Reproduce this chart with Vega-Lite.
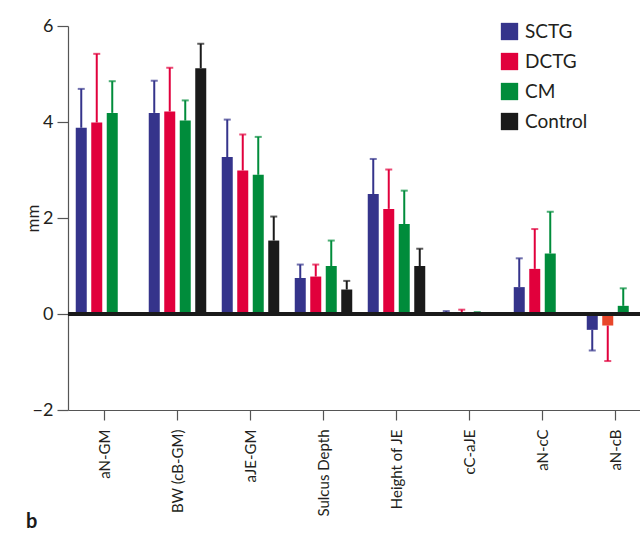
{
  "$schema": "https://vega.github.io/schema/vega-lite/v6.json",
  "width": 572,
  "height": 384,
  "autosize": {"type": "none"},
  "padding": {"left": 68, "top": 26, "right": 0, "bottom": 124},
  "background": "white",
  "config": {
    "view": {"stroke": null},
    "font": "Lato",
    "axis": {"grid": false, "domainColor": "#555555", "tickColor": "#555555", "labelColor": "#231f20", "titleColor": "#231f20", "domainWidth": 1.2, "tickWidth": 1.2}
  },
  "title": {"text": "b", "orient": "bottom", "anchor": "start", "frame": "bounds", "fontSize": 20, "fontWeight": "bold", "color": "#1a1a1a", "dx": 2, "dy": -8},
  "data": {
    "values": [
      {"cat": "aN-GM", "group": "SCTG", "value": 3.88, "whisker": 4.69},
      {"cat": "aN-GM", "group": "DCTG", "value": 3.99, "whisker": 5.42},
      {"cat": "aN-GM", "group": "CM", "value": 4.19, "whisker": 4.85},
      {"cat": "BW (cB-GM)", "group": "SCTG", "value": 4.19, "whisker": 4.86},
      {"cat": "BW (cB-GM)", "group": "DCTG", "value": 4.22, "whisker": 5.13},
      {"cat": "BW (cB-GM)", "group": "CM", "value": 4.03, "whisker": 4.45},
      {"cat": "BW (cB-GM)", "group": "Control", "value": 5.12, "whisker": 5.63},
      {"cat": "aJE-GM", "group": "SCTG", "value": 3.27, "whisker": 4.05},
      {"cat": "aJE-GM", "group": "DCTG", "value": 2.99, "whisker": 3.74},
      {"cat": "aJE-GM", "group": "CM", "value": 2.9, "whisker": 3.69},
      {"cat": "aJE-GM", "group": "Control", "value": 1.53, "whisker": 2.03},
      {"cat": "Sulcus Depth", "group": "SCTG", "value": 0.75, "whisker": 1.03},
      {"cat": "Sulcus Depth", "group": "DCTG", "value": 0.78, "whisker": 1.03},
      {"cat": "Sulcus Depth", "group": "CM", "value": 1.0, "whisker": 1.53},
      {"cat": "Sulcus Depth", "group": "Control", "value": 0.51, "whisker": 0.69},
      {"cat": "Height of JE", "group": "SCTG", "value": 2.5, "whisker": 3.23},
      {"cat": "Height of JE", "group": "DCTG", "value": 2.19, "whisker": 3.01},
      {"cat": "Height of JE", "group": "CM", "value": 1.875, "whisker": 2.57},
      {"cat": "Height of JE", "group": "Control", "value": 1.0, "whisker": 1.36},
      {"cat": "cC-aJE", "group": "SCTG", "value": 0.03, "whisker": 0.06},
      {"cat": "cC-aJE", "group": "DCTG", "value": 0.03, "whisker": 0.09},
      {"cat": "cC-aJE", "group": "CM", "value": 0.02, "whisker": 0.04},
      {"cat": "aN-cC", "group": "SCTG", "value": 0.56, "whisker": 1.16},
      {"cat": "aN-cC", "group": "DCTG", "value": 0.94, "whisker": 1.77},
      {"cat": "aN-cC", "group": "CM", "value": 1.26, "whisker": 2.13},
      {"cat": "aN-cB", "group": "SCTG", "value": -0.33, "whisker": -0.76},
      {"cat": "aN-cB", "group": "DCTG", "value": -0.24, "whisker": -0.98},
      {"cat": "aN-cB", "group": "CM", "value": 0.17, "whisker": 0.535}
    ]
  },
  "encoding": {
    "x": {
      "field": "cat", "type": "nominal",
      "sort": ["aN-GM", "BW (cB-GM)", "aJE-GM", "Sulcus Depth", "Height of JE", "cC-aJE", "aN-cC", "aN-cB"],
      "scale": {"range": [0, 584], "paddingInner": 0, "paddingOuter": 0},
      "axis": {"title": null, "labelAngle": -90, "labelAlign": "right", "labelBaseline": "middle", "labelFontSize": 15, "tickSize": 10, "labelPadding": 9}
    },
    "xOffset": {
      "field": "group", "type": "nominal",
      "scale": {"domain": ["SCTG", "DCTG", "CM", "Control"], "paddingInner": 0.29, "paddingOuter": 0.5}
    }
  },
  "layer": [
    {
      "mark": {"type": "bar"},
      "encoding": {
        "y": {
          "field": "value", "type": "quantitative",
          "scale": {"domain": [-2, 6], "nice": false, "zero": false},
          "axis": {"values": [-2, 0, 2, 4, 6], "title": "mm", "titleFontSize": 17, "titleFontWeight": "normal", "labelFontSize": 18, "tickSize": 11, "labelPadding": 4, "titleX": -35, "titleY": 192, "titleAlign": "center", "titleBaseline": "middle", "titleAngle": 270}
        },
        "color": {
          "condition": {"test": "datum.cat === 'aN-cB' && datum.group === 'DCTG'", "value": "#e8472b"},
          "field": "group", "type": "nominal",
          "scale": {"domain": ["SCTG", "DCTG", "CM", "Control"], "range": ["#35348b", "#e1003c", "#008c3b", "#1a1a1a"]},
          "legend": {"orient": "none", "legendX": 432, "legendY": -4, "title": null, "symbolType": "square", "symbolSize": 300, "symbolStrokeWidth": 0, "labelFontSize": 19, "labelColor": "#231f20", "rowPadding": 10, "labelOffset": 6}
        }
      }
    },
    {
      "mark": {"type": "rule", "strokeWidth": 2},
      "encoding": {
        "y": {"field": "value", "type": "quantitative"},
        "y2": {"field": "whisker"},
        "color": {"field": "group", "type": "nominal", "legend": null}
      }
    },
    {
      "mark": {"type": "tick", "size": 7, "thickness": 2},
      "encoding": {
        "y": {"field": "whisker", "type": "quantitative"},
        "color": {"field": "group", "type": "nominal", "legend": null}
      }
    },
    {
      "data": {"values": [{"zero": 0}]},
      "mark": {"type": "rule", "strokeWidth": 4, "color": "#1a1a1a"},
      "encoding": {
        "x": null,
        "xOffset": null,
        "y": {"field": "zero", "type": "quantitative"}
      }
    }
  ]
}
